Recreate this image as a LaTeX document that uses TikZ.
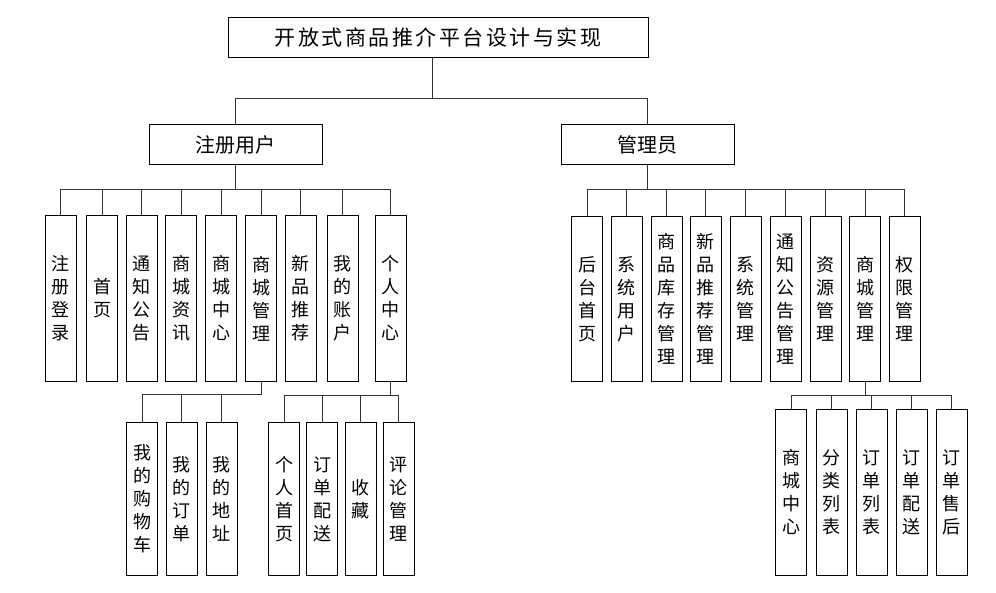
\documentclass[tikz,border=0pt]{standalone}
\usepackage{fontspec}
\setmainfont{Noto Sans CJK SC}
\newfontfamily\titlefont[LetterSpace=12]{Noto Sans CJK SC}
\usetikzlibrary{positioning}

\begin{document}
\begin{tikzpicture}[x=1pt,y=-1pt,
	box/.style={draw,line width=0.8pt,inner sep=0pt,minimum height=40pt,font=\fontsize{20}{24}\selectfont},
	vbox/.style={draw,line width=0.8pt,inner sep=0pt,anchor=north,minimum width=31pt,align=center,font=\fontsize{18}{23}\selectfont},
	link/.style={draw=black!80,line width=0.8pt}]
\useasboundingbox (0,0) rectangle (996,593);
\node[box,minimum width=420pt](title) at (438,37){\titlefont\fontsize{21}{24}\selectfont 开放式商品推介平台设计与实现};
\node[box,minimum width=173pt](user) at (235.5,144.5){注册用户};
\node[box,minimum width=173pt](admin) at (647.5,144.5){管理员};
\draw[link]([xshift=-6pt]title.south)--++(0,41)coordinate(tb)
	(tb)-|(user.north)
	(tb)-|(admin.north);
\foreach \x/\txt [count=\i] in {60.5/{注\\册\\登\\录},102/{首\\页},141.5/{通\\知\\公\\告},181/{商\\城\\资\\讯},221/{商\\城\\中\\心},261/{商\\城\\管\\理},300.5/{新\\品\\推\\荐},342.5/{我\\的\\账\\户},390.5/{个\\人\\中\\心}}{
	\node[vbox,minimum height=166pt](u\i) at (\x,215){\txt};
	\draw[link](user.south)--++(0,25)-|(u\i.north);
}
\foreach \x/\txt [count=\i] in {142/{我\\的\\购\\物\\车},181.5/{我\\的\\订\\单},221.5/{我\\的\\地\\址}}{
	\node[vbox,minimum height=153pt](us\i) at (\x,422){\txt};
	\draw[link](u6.south)--++(0,13)-|(us\i.north);
}
\foreach \x/\txt [count=\i] in {284/{个\\人\\首\\页},322/{订\\单\\配\\送},360.5/{收\\藏},398.5/{评\\论\\管\\理}}{
	\node[vbox,minimum height=153pt](up\i) at (\x,422){\txt};
	\draw[link](u9.south)--++(0,14)-|(up\i.north);
}
\foreach \x/\txt [count=\i] in {587/{后\\台\\首\\页},626.5/{系\\统\\用\\户},666.5/{商\\品\\库\\存\\管\\理},705.5/{新\\品\\推\\荐\\管\\理},745.5/{系\\统\\管\\理},785.5/{通\\知\\公\\告\\管\\理},825.5/{资\\源\\管\\理},865/{商\\城\\管\\理},904.5/{权\\限\\管\\理}}{
	\node[vbox,minimum height=165pt](a\i) at (\x,216){\txt};
	\draw[link](admin.south)--++(0,25)-|(a\i.north);
}
\foreach \x/\txt [count=\i] in {791/{商\\城\\中\\心},831.5/{分\\类\\列\\表},871.5/{订\\单\\列\\表},911.5/{订\\单\\配\\送},951.5/{订\\单\\售\\后}}{
	\node[vbox,minimum height=166pt](as\i) at (\x,409){\txt};
	\draw[link](a8.south)--++(0,14)-|(as\i.north);
}
\end{tikzpicture}
\end{document}
